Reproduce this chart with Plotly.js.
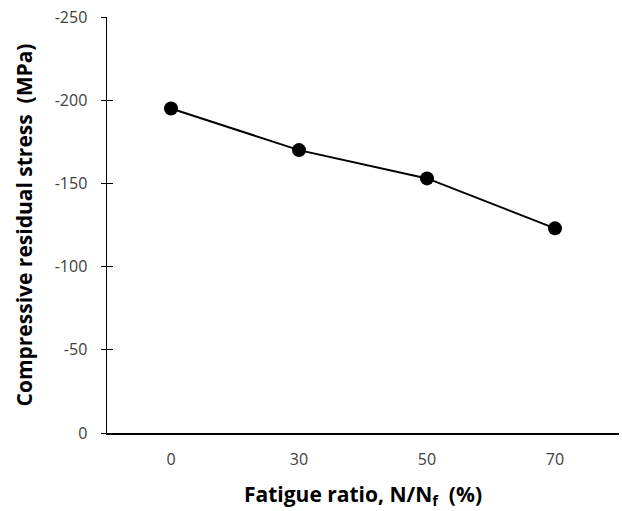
<!DOCTYPE html>
<html>
<head>
<meta charset="utf-8">
<script src="https://cdn.plot.ly/plotly-3.0.1.min.js"></script>
<style>html,body{margin:0;padding:0;background:#fff;}#chart{width:622px;height:511px;}</style>
</head>
<body>
<div id="chart"></div>
<script>
const categories = ["0", "30", "50", "70"];
const stress = [-195, -170, -153, -123];
const yTicks = [0, -50, -100, -150, -200, -250];

const fontFam = "Open Sans, Liberation Sans, sans-serif";
const trace = {
  x: categories,
  y: stress,
  type: "scatter",
  mode: "lines+markers",
  line: {color: "#000", width: 2},
  marker: {color: "#000", size: 14},
  cliponaxis: false,
  showlegend: false
};
const ghost = {x: categories, y: stress, yaxis: "y2", mode: "none", type: "scatter", showlegend: false, hoverinfo: "skip"};

const layout = {
  width: 622, height: 511,
  margin: {l: 107, r: 3, t: 17, b: 78},
  paper_bgcolor: "#fff", plot_bgcolor: "#fff",
  font: {family: fontFam, color: "#404040", size: 16},
  xaxis: {
    type: "category",
    range: [-0.5, 3.5],
    showline: true, linecolor: "#000", linewidth: 1.5,
    ticks: "", showgrid: false, zeroline: false,
    ticklabelstandoff: 11,
    tickfont: {size: 16, color: "#404040"},
    title: {text: "<b>Fatigue ratio, N/N<sub>f</sub>  (%)</b>", font: {size: 21, color: "#000"}, standoff: 18}
  },
  yaxis: {
    range: [0, -250],
    tickvals: yTicks,
    ticktext: yTicks.map(String),
    showline: true, linecolor: "#000", linewidth: 1.5,
    ticks: "outside", ticklen: 5, tickcolor: "#000", tickwidth: 1,
    showgrid: false, zeroline: false,
    ticklabelstandoff: 10,
    tickfont: {size: 16, color: "#404040"},
    title: {text: "<b>Compressive residual stress  (MPa)</b>", font: {size: 21, color: "#000"}, standoff: 16}
  },
  yaxis2: {
    overlaying: "y", matches: "y", side: "left",
    tickvals: yTicks, showticklabels: false,
    ticks: "inside", ticklen: 6, tickcolor: "#000", tickwidth: 1,
    showgrid: false, zeroline: false, showline: false
  }
};
Plotly.newPlot("chart", [ghost, trace], layout, {displayModeBar: false, staticPlot: true});
</script>
</body>
</html>
